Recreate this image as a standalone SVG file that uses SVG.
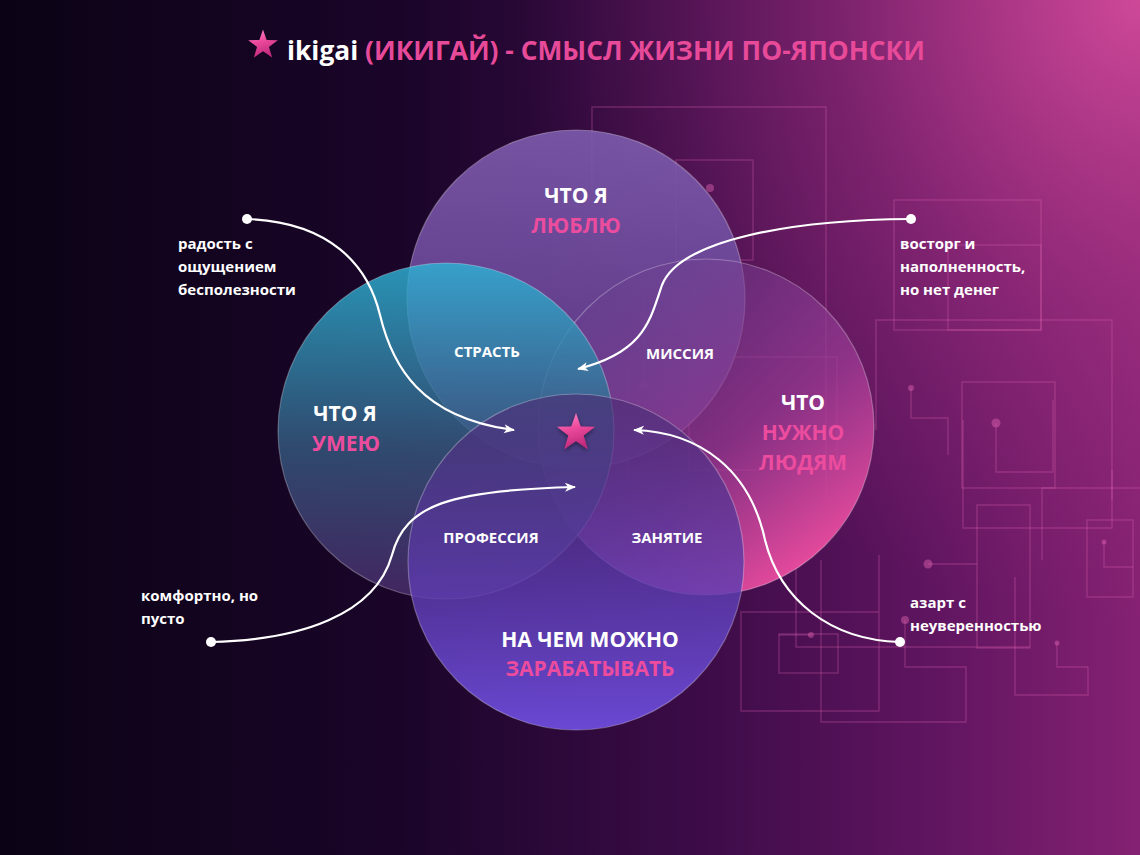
<svg xmlns="http://www.w3.org/2000/svg" width="1140" height="855" viewBox="0 0 1140 855">
<defs>
<linearGradient id="bg" x1="0" y1="0" x2="1" y2="0">
<stop offset="0" stop-color="#0b0315"/>
<stop offset="0.35" stop-color="#1a0529"/>
<stop offset="0.6" stop-color="#3a0b46"/>
<stop offset="0.82" stop-color="#601560"/>
<stop offset="1" stop-color="#852172"/>
</linearGradient>
<radialGradient id="glow" cx="1140" cy="0" r="620" gradientUnits="userSpaceOnUse">
<stop offset="0" stop-color="#d24a9a" stop-opacity="0.95"/>
<stop offset="0.5" stop-color="#b03888" stop-opacity="0.42"/>
<stop offset="1" stop-color="#a03080" stop-opacity="0"/>
</radialGradient>
<linearGradient id="gTop" x1="0" y1="0" x2="0" y2="1">
<stop offset="0" stop-color="#7e5cae"/>
<stop offset="1" stop-color="#5a3486"/>
</linearGradient>
<linearGradient id="gLeft" x1="0" y1="0" x2="0" y2="1">
<stop offset="0" stop-color="#2cb4d6"/>
<stop offset="0.55" stop-color="#35597e"/>
<stop offset="1" stop-color="#4b2c6c"/>
</linearGradient>
<linearGradient id="gRight" x1="0.2" y1="0.1" x2="0.8" y2="0.95">
<stop offset="0" stop-color="#6a3f90" stop-opacity="0.45"/>
<stop offset="0.55" stop-color="#9a3a94" stop-opacity="0.75"/>
<stop offset="1" stop-color="#ee4c9e" stop-opacity="1"/>
</linearGradient>
<linearGradient id="gBot" x1="0" y1="0" x2="0" y2="1">
<stop offset="0" stop-color="#4a2c72" stop-opacity="0.65"/>
<stop offset="0.55" stop-color="#5c3cae" stop-opacity="0.8"/>
<stop offset="1" stop-color="#6c4ad8" stop-opacity="0.97"/>
</linearGradient>
<linearGradient id="gStar" x1="0" y1="0" x2="0.3" y2="1">
<stop offset="0" stop-color="#ff8ccb"/>
<stop offset="0.5" stop-color="#ec4a9c"/>
<stop offset="1" stop-color="#c22a7c"/>
</linearGradient>
<filter id="sh" x="-50%" y="-50%" width="200%" height="200%">
<feDropShadow dx="0" dy="2" stdDeviation="2" flood-color="#000" flood-opacity="0.45"/>
</filter>
<polygon id="star" points="0,-20 4.7,-6.47 19.02,-6.18 7.61,2.47 11.76,16.18 0,8 -11.76,16.18 -7.61,2.47 -19.02,-6.18 -4.7,-6.47"/>
<marker id="arr" markerWidth="12" markerHeight="10" refX="10" refY="4.5" orient="auto" markerUnits="userSpaceOnUse">
<path d="M0,0 L11,4.5 L0,9 L3,4.5 z" fill="#ffffff"/>
</marker>
<style>
.c{fill:none;stroke:#e063b2;stroke-opacity:0.3;stroke-width:1.4}
.d{fill:#e063b2;fill-opacity:0.45}
.circ{stroke:#ffffff;stroke-opacity:0.28;stroke-width:1.2}
.big{font-family:"Open Sans","Noto Sans",sans-serif;font-weight:700;font-size:21px;text-anchor:middle}
.sm{font-family:"Open Sans","Noto Sans",sans-serif;font-weight:700;font-size:15px;text-anchor:middle;fill:#ffffff}
.side{font-family:"Open Sans","Noto Sans",sans-serif;font-weight:700;font-size:15px;fill:#ffffff}
.w{fill:#ffffff}
.p{fill:#ec4c9e}
.con{fill:none;stroke:#ffffff;stroke-width:2.2}
</style>
</defs>
<rect width="1140" height="855" fill="url(#bg)"/>
<rect width="1140" height="855" fill="url(#glow)"/>
<g id="circuits">
<path class="c" d="M592,190 V107 H826 V500"/>
<rect class="c" x="676" y="160" width="77" height="100"/>
<circle class="d" cx="710" cy="188" r="4"/>
<rect class="c" x="894" y="200" width="147" height="130"/>
<rect class="c" x="948" y="245" width="93" height="85"/>
<path class="c" d="M876,430 V320 H1112 V500"/>
<rect class="c" x="962" y="382" width="93" height="106"/>
<circle class="d" cx="911" cy="388" r="3"/>
<path class="c" d="M911,388 V418 H948 V455"/>
<circle class="d" cx="996" cy="423" r="4.5"/>
<path class="c" d="M996,423 V472 H1053 V400"/>
<path class="c" d="M963,420 V528 H1112 V470"/>
<rect class="c" x="977" y="505" width="53" height="143"/>
<circle class="d" cx="928" cy="564" r="4.5"/>
<path class="c" d="M928,564 H977"/>
<path class="c" d="M1042,560 V488 H1140"/>
<rect class="c" x="1087" y="520" width="46" height="77"/>
<circle class="d" cx="1104" cy="542" r="2.5"/>
<path class="c" d="M1104,542 V567 H1133"/>
<path class="c" d="M879,555 V711 H741 V612 H879"/>
<rect class="c" x="779" y="634" width="59" height="39"/>
<circle class="d" cx="811" cy="635" r="3"/>
<path class="c" d="M779,635 H811"/>
<path class="c" d="M796,560 V647 H1030"/>
<path class="c" d="M1015,577 V695 H1088 V667"/>
<circle class="d" cx="1057" cy="643" r="2.5"/>
<path class="c" d="M1057,643 V667 H1088"/>
<circle class="d" cx="905" cy="620" r="4"/>
<path class="c" d="M905,620 V667 H966 V722 H821 V560"/>
<path class="c" d="M628,480 V357 H837 V470"/>
<circle class="d" cx="644" cy="385" r="4"/>
<path class="c" d="M644,290 V385"/>
<path class="c" d="M689,418 V470 H760"/>
</g>
<g id="node-love">
<circle class="circ" cx="576" cy="299" r="169" fill="url(#gTop)" fill-opacity="0.9"/>
<text class="big w" x="576" y="203">ЧТО Я</text>
<text class="big p" x="576" y="233">ЛЮБЛЮ</text>
</g>
<g id="node-need">
<circle class="circ" cx="706" cy="427" r="168" fill="url(#gRight)"/>
<text class="big w" x="803" y="410">ЧТО</text>
<text class="big p" x="803" y="440">НУЖНО</text>
<text class="big p" x="803" y="470">ЛЮДЯМ</text>
</g>
<g id="node-good">
<circle class="circ" cx="446" cy="431" r="168" fill="url(#gLeft)" fill-opacity="0.82"/>
<text class="big w" x="345" y="421">ЧТО Я</text>
<text class="big p" x="346" y="451">УМЕЮ</text>
</g>
<g id="node-paid">
<circle class="circ" cx="576" cy="562" r="168" fill="url(#gBot)"/>
<text class="big w" x="590" y="647">НА ЧЕМ МОЖНО</text>
<text class="big p" x="590" y="676">ЗАРАБАТЫВАТЬ</text>
</g>
<g id="overlaps">
<text class="sm" x="487" y="357">СТРАСТЬ</text>
<text class="sm" x="680" y="359">МИССИЯ</text>
<text class="sm" x="491" y="543">ПРОФЕССИЯ</text>
<text class="sm" x="667" y="543">ЗАНЯТИЕ</text>
</g>
<g id="ikigai-star">
<use href="#star" transform="translate(576,433)" fill="url(#gStar)" filter="url(#sh)"/>
</g>
<g id="title">
<use href="#star" transform="translate(263,45) scale(0.78)" fill="url(#gStar)"/>
<text x="287" y="60" font-family="'Open Sans','Noto Sans',sans-serif" font-weight="700" font-size="27" textLength="638" lengthAdjust="spacingAndGlyphs"><tspan fill="#ffffff">ikigai </tspan><tspan fill="#e84a9a">(ИКИГАЙ) - СМЫСЛ ЖИЗНИ ПО-ЯПОНСКИ</tspan></text>
</g>
<g id="connectors">
<path class="con" d="M247,219 C330,222 368,265 380,315 C392,365 420,418 514,430" marker-end="url(#arr)"/>
<path class="con" d="M911,219 C790,220 680,240 662,285 C650,320 645,352 578,369" marker-end="url(#arr)"/>
<path class="con" d="M211,642 C300,640 375,615 392,555 C405,505 450,490 575,487" marker-end="url(#arr)"/>
<path class="con" d="M900,642 C830,640 780,600 765,540 C750,470 700,432 634,430" marker-end="url(#arr)"/>
<circle cx="247" cy="219" r="5" fill="#ffffff"/>
<circle cx="911" cy="219" r="5" fill="#ffffff"/>
<circle cx="211" cy="642" r="5" fill="#ffffff"/>
<circle cx="900" cy="642" r="5" fill="#ffffff"/>
</g>
<g id="notes">
<text class="side" x="178" y="249">радость с</text>
<text class="side" x="178" y="272">ощущением</text>
<text class="side" x="178" y="295">бесполезности</text>
<text class="side" x="900" y="249">восторг и</text>
<text class="side" x="900" y="272">наполненность,</text>
<text class="side" x="900" y="295">но нет денег</text>
<text class="side" x="141" y="601">комфортно, но</text>
<text class="side" x="141" y="624">пусто</text>
<text class="side" x="910" y="608">азарт с</text>
<text class="side" x="910" y="631">неуверенностью</text>
</g>
</svg>
